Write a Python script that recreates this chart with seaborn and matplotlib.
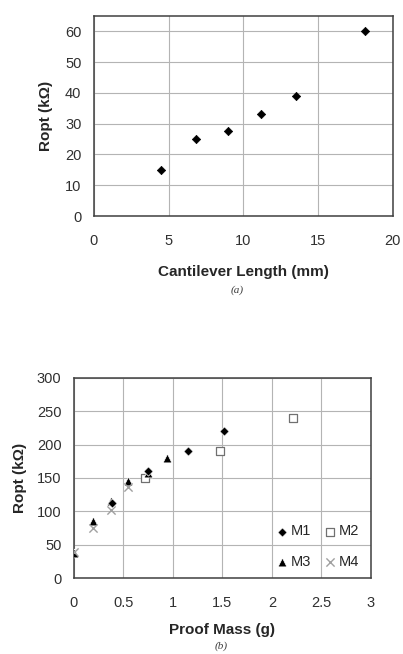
import matplotlib
matplotlib.use("Agg")
import matplotlib.pyplot as plt
import seaborn as sns
import pandas as pd

sns.set_theme(style="whitegrid")
plt.rcParams['font.family'] = ['Liberation Sans', 'DejaVu Sans']

# Panel (a)
length_mm = [4.5, 6.8, 9.0, 11.2, 13.5, 18.1]
ropt_a = [15, 25, 27.5, 33, 39, 60]

# Panel (b)
m1_mass = [0.38, 0.75, 1.15, 1.52]
m1_ropt = [112, 160, 190, 220]
m2_mass = [0.72, 1.47, 2.21]
m2_ropt = [150, 190, 240]
m3_mass = [0.0, 0.19, 0.37, 0.55, 0.75, 0.94]
m3_ropt = [38, 85, 115, 145, 157, 180]
m4_mass = [0.0, 0.19, 0.37, 0.55]
m4_ropt = [40, 75, 102, 137]

df_a = pd.DataFrame({"x": length_mm, "y": ropt_a})
df_b = pd.concat([
    pd.DataFrame({"x": m1_mass, "y": m1_ropt, "s": "M1"}),
    pd.DataFrame({"x": m2_mass, "y": m2_ropt, "s": "M2"}),
    pd.DataFrame({"x": m3_mass, "y": m3_ropt, "s": "M3"}),
    pd.DataFrame({"x": m4_mass, "y": m4_ropt, "s": "M4"}),
], ignore_index=True)

fig = plt.figure(figsize=(4.03, 6.54), dpi=100)
ax1 = fig.add_axes([0.233, 0.6697, 0.742, 0.3058])
ax2 = fig.add_axes([0.1836, 0.1158, 0.737, 0.3067])

grid_c = "#b4b4b4"
for ax in (ax1, ax2):
    ax.set_facecolor("white")
    ax.grid(True, color=grid_c, linewidth=0.8)
    for sp in ax.spines.values():
        sp.set_color("#404040")
        sp.set_linewidth(1.1)
    ax.tick_params(axis='both', which='both', labelsize=10.5, colors="#303030",
                   direction='out', length=3, width=0.8, pad=6)
    ax.tick_params(axis='x', pad=10)

sns.scatterplot(data=df_a, x="x", y="y", ax=ax1, marker="D", color="black",
                s=18, edgecolor="black", linewidth=0.5, legend=False)
ax1.set_xlim(0, 20)
ax1.set_ylim(0, 65)
ax1.set_xticks([0, 5, 10, 15, 20])
ax1.set_yticks([0, 10, 20, 30, 40, 50, 60])
ax1.set_xlabel("Cantilever Length (mm)", fontsize=11, fontweight="bold", labelpad=12)
ax1.set_ylabel("Ropt (kΩ)", fontsize=11, fontweight="bold", labelpad=9)

for name, g in df_b.groupby("s"):
    if name == "M2":
        ax2.scatter(g["x"], g["y"], marker="s", facecolors="white",
                    edgecolors="#707070", s=40, linewidths=0.9, label=name, zorder=3)
    elif name == "M4":
        ax2.scatter(g["x"], g["y"], marker="x", color="#a0a0a0",
                    s=35, linewidths=1.0, label=name, zorder=3)
    elif name == "M1":
        sns.scatterplot(x=g["x"], y=g["y"], ax=ax2, marker="D", color="black",
                        s=22, linewidth=0.5, label=name, zorder=4)
    else:
        sns.scatterplot(x=g["x"], y=g["y"], ax=ax2, marker="^", color="black",
                        s=40, linewidth=0.5, label=name, zorder=3)

ax2.set_xlim(0, 3)
ax2.set_ylim(0, 300)
ax2.set_xticks([0, 0.5, 1, 1.5, 2, 2.5, 3])
ax2.set_xticklabels(["0", "0.5", "1", "1.5", "2", "2.5", "3"])
ax2.set_yticks([0, 50, 100, 150, 200, 250, 300])
ax2.set_xlabel("Proof Mass (g)", fontsize=11, fontweight="bold", labelpad=9)
ax2.set_ylabel("Ropt (kΩ)", fontsize=11, fontweight="bold", labelpad=7)

h, l = ax2.get_legend_handles_labels()
order = [l.index(k) for k in ["M1", "M3", "M2", "M4"]]
ax2.legend([h[i] for i in order], [l[i] for i in order], ncol=2, loc="lower right",
           bbox_to_anchor=(0.99, 0.005), frameon=False, fontsize=10.5,
           handletextpad=0.1, columnspacing=0.8, handlelength=1.0,
           labelspacing=1.1, borderaxespad=0.2)

fig.text(0.588, 1 - 290 / 654, "(a)", ha="center", va="center", fontsize=8,
         style="italic", family=["Liberation Serif", "DejaVu Serif"], color="#404040")
fig.text(0.548, 1 - 646 / 654, "(b)", ha="center", va="center", fontsize=8,
         style="italic", family=["Liberation Serif", "DejaVu Serif"], color="#404040")

fig.savefig("out.png", dpi=100, facecolor="white")
